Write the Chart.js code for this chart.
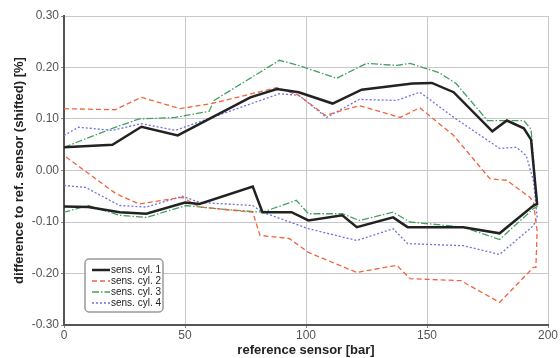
<!DOCTYPE html>
<html>
<head>
<meta charset="utf-8">
<script src="https://cdn.jsdelivr.net/npm/chart.js@4"></script>
<style>
  html, body { margin: 0; padding: 0; background: #fff; }
  #wrap { width: 560px; height: 358px; }
</style>
</head>
<body>
<div id="wrap"><canvas id="chart" width="560" height="358"></canvas></div>
<script>
// each cylinder: upper branch left->right, then lower branch right->left
var labels = ['sens. cyl. 1', 'sens. cyl. 2', 'sens. cyl. 3', 'sens. cyl. 4'];

var cyl1X = [0, 20, 32, 47, 77, 88, 97, 111, 123, 144, 152, 161, 177, 183, 190, 193, 195.5,
             194, 180, 165, 142, 136, 121, 115, 101, 94, 82, 78, 56, 50, 34, 23, 10, 0];
var cyl1Y = [0.045, 0.050, 0.085, 0.068, 0.142, 0.158, 0.152, 0.130, 0.157, 0.169, 0.170, 0.152, 0.076, 0.097, 0.082, 0.060, -0.065,
             -0.068, -0.122, -0.110, -0.110, -0.091, -0.110, -0.087, -0.097, -0.081, -0.081, -0.031, -0.065, -0.062, -0.084, -0.081, -0.071, -0.070];

var cyl2X = [0, 21, 32, 48, 61, 88, 97, 108, 122, 139, 147, 161, 176, 183, 192.5, 194, 195.5, 195,
             194, 180, 164, 143, 137.5, 121, 101, 93, 81, 78, 56, 49, 31, 21.5, 0];
var cyl2Y = [0.120, 0.118, 0.142, 0.120, 0.130, 0.161, 0.146, 0.107, 0.126, 0.103, 0.122, 0.068, -0.016, -0.019, -0.052, -0.062, -0.117, -0.188,
             -0.188, -0.256, -0.214, -0.210, -0.184, -0.198, -0.159, -0.132, -0.126, -0.081, -0.071, -0.052, -0.065, -0.045, 0.029];

var cyl3X = [0, 20, 31, 46, 60, 62, 89, 97, 112.6, 125, 137.5, 143, 155, 162, 175, 190, 193, 195.5,
             194, 180, 165, 143, 136, 122, 115, 101, 96, 82, 65, 50.5, 34, 23, 10, 0];
var cyl3Y = [0.045, 0.082, 0.100, 0.103, 0.115, 0.136, 0.214, 0.204, 0.179, 0.208, 0.204, 0.208, 0.190, 0.169, 0.097, 0.097, 0.080, -0.070,
             -0.074, -0.134, -0.110, -0.100, -0.081, -0.097, -0.084, -0.084, -0.058, -0.081, -0.075, -0.068, -0.091, -0.087, -0.068, -0.081];

var cyl4X = [0, 6, 20, 32, 46, 89, 97, 108.5, 122, 137.5, 147, 162, 180, 187, 191, 194, 195.5,
             194, 180, 165, 142, 136, 121, 101, 82, 78, 56, 49, 34, 23, 9, 0];
var cyl4Y = [0.068, 0.084, 0.078, 0.091, 0.078, 0.149, 0.146, 0.103, 0.138, 0.136, 0.152, 0.100, 0.043, 0.045, 0.029, -0.020, -0.090,
             -0.107, -0.163, -0.146, -0.142, -0.113, -0.136, -0.113, -0.081, -0.068, -0.062, -0.050, -0.071, -0.068, -0.033, -0.029];

var xTicks = [0, 50, 100, 150, 200];
var yTicks = [-0.3, -0.2, -0.1, 0, 0.1, 0.2, 0.3];

function pts(xs, ys) {
    return xs.map(function (x, i) { return { x: x, y: ys[i] }; });
}

var styles = [
    { color: '#222222', width: 2.5, dash: [] },
    { color: '#f0643f', width: 1.3, dash: [5, 3] },
    { color: '#44a062', width: 1.3, dash: [7, 2, 1.5, 2] },
    { color: '#7070e0', width: 1.3, dash: [2, 2] }
];
var series = [pts(cyl1X, cyl1Y), pts(cyl2X, cyl2Y), pts(cyl3X, cyl3Y), pts(cyl4X, cyl4Y)];

var FONT = '"Liberation Sans", Arial, sans-serif';

// legend box drawn inside the plot area
var boxLegend = {
    id: 'boxLegend',
    afterDraw: function (chart) {
        var ctx = chart.ctx;
        var x0 = 85, y0 = 259, w = 78, h = 53;
        ctx.save();
        ctx.fillStyle = '#fff';
        ctx.strokeStyle = '#9a9a9a';
        ctx.lineWidth = 1.5;
        ctx.beginPath();
        ctx.roundRect(x0, y0, w, h, 4);
        ctx.fill();
        ctx.stroke();
        ctx.font = '10px ' + FONT;
        ctx.textBaseline = 'middle';
        chart.data.datasets.forEach(function (ds, i) {
            var y = y0 + 11 + i * 11;
            ctx.strokeStyle = ds.borderColor;
            ctx.lineWidth = ds.borderWidth;
            ctx.setLineDash(ds.borderDash);
            ctx.beginPath();
            ctx.moveTo(92, y);
            ctx.lineTo(110, y);
            ctx.stroke();
            ctx.setLineDash([]);
            ctx.fillStyle = '#222';
            ctx.fillText(ds.label, 111, y);
        });
        ctx.restore();
    }
};

new Chart(document.getElementById('chart').getContext('2d'), {
    type: 'scatter',
    data: {
        datasets: series.map(function (d, i) {
            return {
                label: labels[i],
                data: d,
                showLine: true,
                borderColor: styles[i].color,
                backgroundColor: styles[i].color,
                borderWidth: styles[i].width,
                borderDash: styles[i].dash,
                pointRadius: 0,
                tension: 0
            };
        })
    },
    options: {
        responsive: false,
        animation: false,
        layout: { padding: { top: 16, right: 12, left: 0, bottom: 0 } },
        plugins: { legend: { display: false }, tooltip: { enabled: false } },
        scales: {
            x: {
                type: 'linear', min: 0, max: 200,
                afterBuildTicks: function (a) { a.ticks = xTicks.map(function (v) { return { value: v }; }); },
                afterFit: function (a) { a.height = 33; },
                grid: { color: '#c8c8c8', tickLength: 3, tickColor: '#888' },
                border: { color: '#555', width: 2 },
                ticks: { color: '#555', font: { size: 12, family: FONT }, padding: 0 },
                title: { display: true, text: 'reference sensor [bar]', color: '#222',
                         font: { size: 13, weight: 'bold', family: FONT }, padding: 0 }
            },
            y: {
                min: -0.3, max: 0.3,
                afterBuildTicks: function (a) { a.ticks = yTicks.map(function (v) { return { value: v }; }); },
                afterFit: function (a) { a.width = 64; },
                grid: { color: '#c8c8c8', tickLength: 3, tickColor: '#888' },
                border: { color: '#555', width: 2 },
                ticks: { color: '#555', font: { size: 12, family: FONT }, padding: 2,
                         callback: function (v) { return v.toFixed(2); } },
                title: { display: true, text: 'difference to ref. sensor (shifted) [%]', color: '#222',
                         font: { size: 13, weight: 'bold', family: FONT }, padding: { top: 12, bottom: 0 } }
            }
        }
    },
    plugins: [boxLegend]
});
</script>
</body>
</html>
